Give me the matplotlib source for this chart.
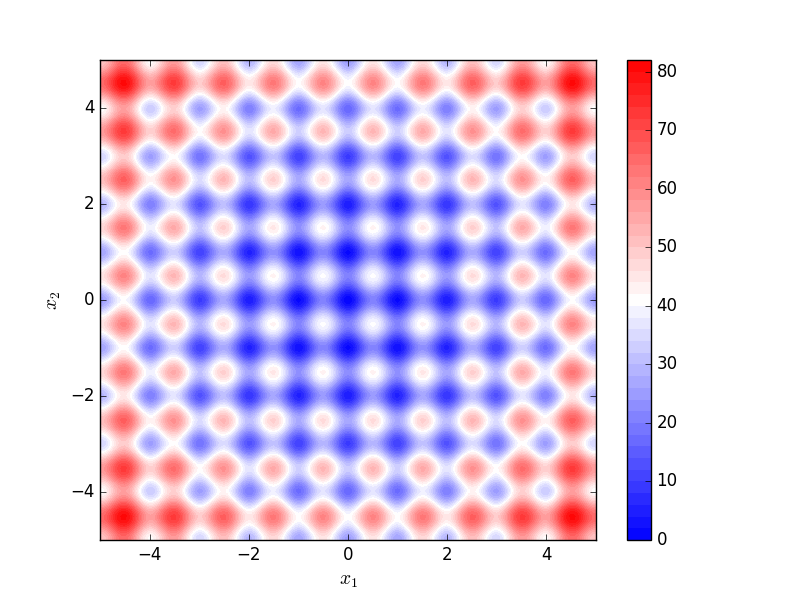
import numpy as np
import matplotlib
matplotlib.use("Agg")
import matplotlib.pyplot as plt

plt.style.use("classic")

# Height of the surface along the x1 axis (x2 = 0), x1 = 0 to 5 every 0.0625
half_profile = [0, 0.8, 2.9, 6.2, 10.1, 13.9, 17.2, 19.4,
                20.3, 19.6, 17.5, 14.3, 10.6, 6.8, 3.7, 1.6,
                1, 1.9, 4.2, 7.6, 11.6, 15.6, 19.0, 21.3,
                22.3, 21.7, 19.7, 16.7, 13.1, 9.5, 6.4, 4.5,
                4, 5.0, 7.4, 11.0, 15.1, 19.2, 22.7, 25.2,
                26.3, 25.8, 24.0, 21.1, 17.6, 14.1, 11.2, 9.4,
                9, 10.1, 12.7, 16.3, 20.6, 24.8, 28.5, 31.1,
                32.3, 31.9, 30.2, 27.4, 24.1, 20.7, 17.9, 16.3,
                16, 17.3, 19.9, 23.7, 28.1, 32.4, 36.2, 38.9,
                40.3, 40.1, 38.5, 35.8, 32.6, 29.3, 26.7, 25.1,
                25]
step = 0.0625
levels = list(range(0, 84, 2))
cbar_ticks = [0, 10, 20, 30, 40, 50, 60, 70, 80]

half_profile = np.array(half_profile)
profile = np.concatenate([half_profile[:0:-1], half_profile])
n = len(half_profile) - 1
x = np.arange(-n, n + 1) * step

# the map is the same profile along both axes, added together
X1, X2 = np.meshgrid(x, x)
Z = profile[np.newaxis, :] + profile[:, np.newaxis]

fig, ax = plt.subplots(figsize=(8, 6), dpi=100)
cs = ax.contourf(X1, X2, Z, levels=levels, cmap="bwr")
ax.set_xlim(-5, 5)
ax.set_ylim(-5, 5)
ax.set_xticks([-4, -2, 0, 2, 4])
ax.set_yticks([-4, -2, 0, 2, 4])
ax.set_xlabel(r"$x_1$", fontsize=14)
ax.set_ylabel(r"$x_2$", fontsize=14)
cbar = fig.colorbar(cs, ax=ax, ticks=cbar_ticks)

fig.savefig("out.png", dpi=100)
